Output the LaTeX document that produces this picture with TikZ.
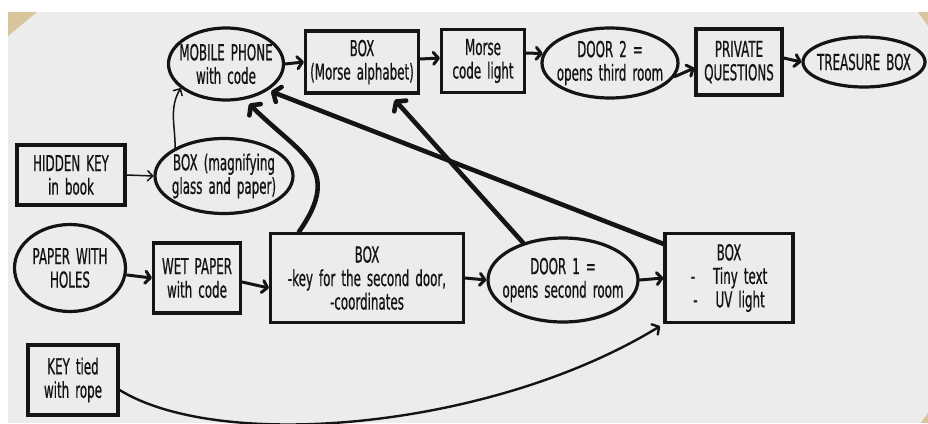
\documentclass[tikz,border=0pt]{standalone}
\usepackage{fontspec}
\setmainfont{DejaVu Sans}[FakeStretch=0.54,WordSpace=1.6,FakeBold=0.6]
\usetikzlibrary{shapes.geometric,arrows.meta}
\definecolor{paper}{HTML}{ECECEC}
\definecolor{tanc}{HTML}{D8C59C}
\definecolor{ink}{HTML}{141414}
\newcommand{\cl}[1]{\makebox[0pt]{#1}}
\tikzset{
  every node/.style={font=\fontsize{22}{23.5}\selectfont, text=ink, align=center, inner sep=0pt},
  rbox/.style args={#1x#2}{draw=ink, line width=3.2pt, rectangle, minimum width=#1pt, minimum height=#2pt},
  oval/.style args={#1x#2}{draw=ink, line width=3.2pt, ellipse, minimum width=#1pt, minimum height=#2pt},
  arr/.style={draw=ink, line width=3pt, line cap=round, -{Straight Barb[length=5pt,width=12pt,round]}},
  thinarr/.style={arr, line width=1.5pt, -{Straight Barb[length=5pt,width=10pt,round]}},
  heavy/.style={draw=ink, line width=4.6pt, line cap=round, -{Straight Barb[length=6pt,width=16pt,round]}}
}
\begin{document}
\begin{tikzpicture}[x=1pt,y=-1pt]
\useasboundingbox (0,0) rectangle (928,423);
\fill[white] (0,0) rectangle (928,423);
\fill[paper] (8,12) rectangle (928,423);
\fill[tanc] (8,12) -- (37,12) -- (8,36) -- cycle;
\fill[tanc] (918,12) -- (928,12) -- (928,26) -- cycle;
\fill[tanc] (921,423) -- (928,423) -- (928,413) -- cycle;

\node[oval=115x72] (mob) at (226,64) {\cl{MOBILE PHONE}\\\cl{with code}};
\node[rbox=113x62] (morse) at (362,62) {BOX\\(Morse alphabet)};
\node[rbox=83x63] (light) at (483,61) {Morse\\code light};
\node[oval=136x70] (door2) at (610,63) {\cl{DOOR 2 =}\\\cl{opens third room}};
\node[rbox=86x66] (priv) at (739,62) {PRIVATE\\QUESTIONS};
\node[oval=122x50] (treas) at (864,62) {\cl{TREASURE BOX}};
\node[rbox=108x60] (hidden) at (71,175) {HIDDEN KEY\\in book};
\node[oval=138x75] (mag) at (224,176) {\cl{BOX (magnifying}\\\cl{glass and paper)}};
\node[oval=111x87] (paper) at (70,268) {\cl{PAPER WITH}\\\cl{HOLES}};
\node[rbox=87x70] (wet) at (197,278) {WET PAPER\\with code};
\node[rbox=193x89] (keybox) at (367,278) {BOX\\-key for the second door,\\-coordinates};
\node[oval=150x84] (door1) at (563,280) {\cl{DOOR 1 =}\\\cl{opens second room}};
\node[rbox=128x89] (tiny) at (729,278) {BOX\\-\hspace{18pt}Tiny text\\-\hspace{18pt}UV light};
\node[rbox=90x70] (rope) at (73,380) {KEY tied\\with rope};

\draw[arr] (mob.east) -- (morse.west);
\draw[arr] ([yshift=3pt]morse.east) -- ([yshift=3pt]light.west);
\draw[arr] ([yshift=8pt]light.east) -- (door2.172);
\draw[arr] (door2.-12) -- ([yshift=-6pt]priv.west);
\draw[arr] ([yshift=4pt]priv.east) -- (treas.west);
\draw[thinarr] (hidden.east) -- (mag.west);
\draw[thinarr] (mag.150) to[out=90,in=240] (mob.208);
\draw[arr] ([yshift=-7pt]paper.east) -- (wet.west);
\draw[arr] ([yshift=-4pt]wet.east) -- ([yshift=-10pt]keybox.west);
\draw[arr] (keybox.east) -- (door1.west);
\draw[arr] (door1.east) -- (tiny.west);
\draw[heavy, shorten >=6pt] ([xshift=30pt]keybox.north west) to[out=55,in=-45,looseness=1.4] (mob.-62);
\draw[heavy, shorten >=3pt] ([yshift=-12pt]tiny.north west) -- (mob.-32);
\draw[heavy, shorten >=7pt] (door1.137) -- ([xshift=28pt]morse.south);
\draw[arr, line width=2.4pt, shorten >=4pt] ([yshift=-10pt]rope.east) .. controls (220,452) and (490,430) .. (tiny.south west);
\end{tikzpicture}
\end{document}
